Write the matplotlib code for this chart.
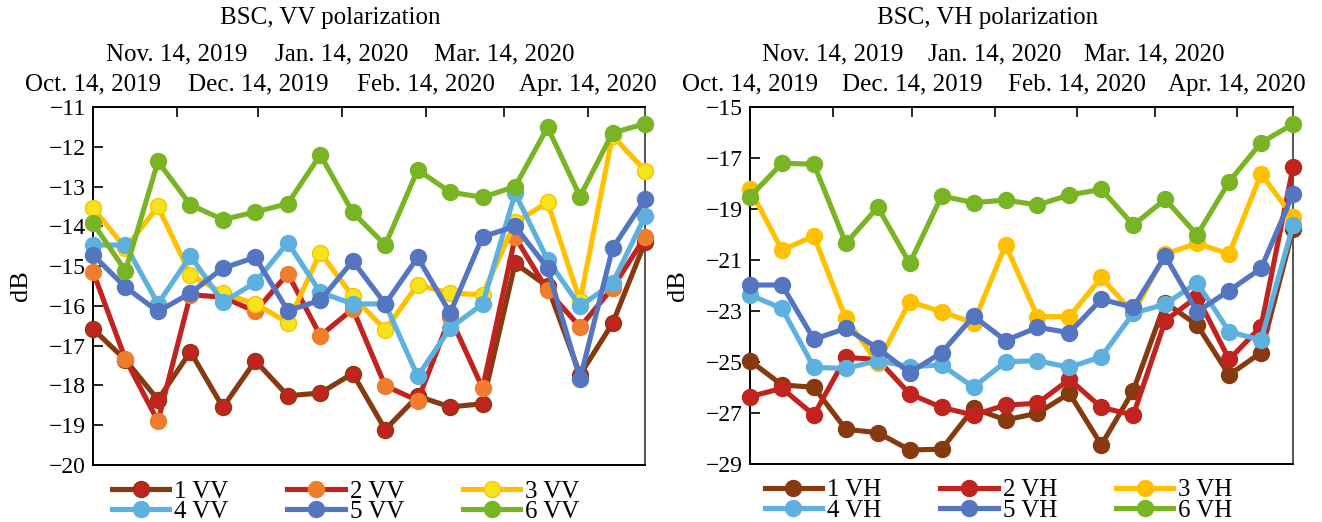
import numpy as np
import matplotlib
matplotlib.use("Agg")
import matplotlib.pyplot as plt

plt.rcParams['font.family'] = ['Liberation Serif', 'DejaVu Serif']

# Sentinel-1 acquisition dates (12-day revisit)
dates = np.array(['2019-10-14', '2019-10-26', '2019-11-07', '2019-11-19', '2019-12-01',
                  '2019-12-13', '2019-12-25', '2020-01-06', '2020-01-18', '2020-01-30',
                  '2020-02-11', '2020-02-23', '2020-03-06', '2020-03-18', '2020-03-30',
                  '2020-04-11', '2020-04-23', '2020-05-05'], dtype='datetime64[D]')

tick_dates = np.array(['2019-10-14', '2019-11-14', '2019-12-14', '2020-01-14',
                       '2020-02-14', '2020-03-14', '2020-04-14'], dtype='datetime64[D]')
tick_labels = ['Oct. 14, 2019', 'Nov. 14, 2019', 'Dec. 14, 2019', 'Jan. 14, 2020',
               'Feb. 14, 2020', 'Mar. 14, 2020', 'Apr. 14, 2020']

# backscatter, VV polarization (dB)
vv1 = [-16.58, -17.36, -18.36, -17.15, -18.55, -17.38, -18.26, -18.19, -17.70, -19.11,
       -18.27, -18.54, -18.46, -14.93, -15.51, -17.73, -16.44, -14.40]
vv2 = [-15.14, -17.34, -18.90, -15.72, -15.78, -16.14, -15.19, -16.75, -16.08, -18.01,
       -18.38, -16.28, -18.07, -14.27, -15.61, -16.53, -15.55, -14.27]
vv3 = [-13.54, -14.55, -13.50, -15.22, -15.68, -15.95, -16.42, -14.66, -15.76, -16.60,
       -15.47, -15.68, -15.72, -13.90, -13.40, -15.88, -11.72, -12.60]
vv4 = [-14.47, -14.47, -15.95, -14.74, -15.91, -15.41, -14.41, -15.66, -15.95, -15.95,
       -17.77, -16.56, -15.95, -13.17, -14.84, -16.01, -15.43, -13.75]
vv5 = [-14.72, -15.53, -16.14, -15.68, -15.05, -14.78, -16.12, -15.86, -14.87, -15.95,
       -14.78, -16.18, -14.26, -14.00, -15.05, -17.84, -14.55, -13.32]
vv6 = [-13.92, -15.12, -12.37, -13.46, -13.83, -13.64, -13.43, -12.20, -13.65, -14.47,
       -12.58, -13.14, -13.27, -13.00, -11.51, -13.25, -11.65, -11.42]

# backscatter, VH polarization (dB)
vh1 = [-24.95, -25.90, -25.99, -27.64, -27.77, -28.45, -28.42, -26.82, -27.27, -27.01,
       -26.23, -28.25, -26.12, -22.67, -23.55, -25.51, -24.63, -19.80]
vh2 = [-26.36, -26.03, -27.08, -24.82, -24.90, -26.25, -26.78, -27.08, -26.69, -26.62,
       -25.68, -26.78, -27.08, -23.38, -22.44, -24.90, -23.61, -17.37]
vh3 = [-18.23, -20.61, -20.06, -23.29, -25.05, -22.63, -23.03, -23.46, -20.41, -23.22,
       -23.22, -21.68, -23.09, -20.76, -20.35, -20.76, -17.63, -19.30]
vh4 = [-22.37, -22.90, -25.21, -25.25, -24.95, -25.18, -25.12, -25.99, -24.99, -24.95,
       -25.21, -24.79, -23.09, -22.73, -21.89, -23.81, -24.14, -19.63]
vh5 = [-21.98, -21.98, -24.11, -23.68, -24.46, -25.42, -24.63, -23.20, -24.16, -23.64,
       -23.85, -22.54, -22.86, -20.84, -23.03, -22.20, -21.33, -18.41]
vh6 = [-18.52, -17.21, -17.24, -20.35, -18.93, -21.13, -18.49, -18.75, -18.65, -18.84,
       -18.45, -18.23, -19.63, -18.62, -20.02, -17.93, -16.40, -15.67]

brown, red, orange = '#873A10', '#C1241E', '#EE7E2D'
yellow, yellow2 = '#FFC000', '#F3E41E'
lblue, blue, green = '#5EB1DE', '#5475C0', '#78B424'

# (line colour, marker face, marker edge)
vv_styles = [(brown, red, brown), (red, orange, orange), (yellow, yellow2, yellow),
             (lblue, lblue, lblue), (blue, blue, blue), (green, green, green)]
vh_styles = [(brown, brown, brown), (red, red, red), (yellow, yellow, yellow),
             (lblue, lblue, lblue), (blue, blue, blue), (green, green, green)]

fig = plt.figure(figsize=(13.22, 5.22), dpi=100)
ax1 = fig.add_axes([93 / 1322, 1 - 465 / 522, 552 / 1322, 358 / 522])
ax2 = fig.add_axes([750 / 1322, 1 - 464 / 522, 543 / 1322, 357 / 522])


def draw(ax, series, styles, pol, ylim, yticks, title, title_x):
    handles = []
    for i, (vals, (lc, mc, ec)) in enumerate(zip(series, styles)):
        h, = ax.plot(dates, vals, '-o', color=lc, lw=3.7, ms=11.5,
                     mfc=mc, mec=ec, mew=1.0, clip_on=False, zorder=3 + i,
                     label=f'{i + 1} {pol}')
        handles.append(h)
    ax.set_xlim(dates[0], dates[-1])
    ax.set_ylim(*ylim)
    ax.set_yticks(yticks)
    ax.tick_params(axis='y', direction='in', length=7, width=1.2, labelsize=17, pad=5)
    ax.set_ylabel('dB', fontsize=19, labelpad=12)

    ax.xaxis.tick_top()
    ax.set_xticks(tick_dates[0::2])
    ax.set_xticklabels(tick_labels[0::2])
    ax.set_xticks(tick_dates[1::2], minor=True)
    ax.set_xticklabels(tick_labels[1::2], minor=True)
    ax.tick_params(axis='x', which='major', direction='in', length=7, width=1.2,
                   labelsize=18, pad=8)
    ax.tick_params(axis='x', which='minor', direction='in', length=7, width=1.2,
                   labelsize=18, pad=30)

    for s in ['left', 'bottom', 'top']:
        ax.spines[s].set_linewidth(1.4)
        ax.spines[s].set_color('black')
    ax.spines['right'].set_linewidth(1.4)
    ax.spines['right'].set_color('#555555')

    order = [0, 3, 1, 4, 2, 5]
    ax.legend([handles[k] for k in order], [handles[k].get_label() for k in order],
              ncol=3, loc='upper center', bbox_to_anchor=(0.458, 0.0), frameon=False,
              fontsize=18, handlelength=2.3, handletextpad=0.2, columnspacing=2.35,
              labelspacing=-0.08, borderpad=0.1)

    fig.text(title_x / 1322, 1 - 18 / 522, title, ha='center', va='center', fontsize=18)


draw(ax1, [vv1, vv2, vv3, vv4, vv5, vv6], vv_styles, 'VV', (-20, -11),
     np.arange(-20, -10, 1), 'BSC, VV polarization', 330)
draw(ax2, [vh1, vh2, vh3, vh4, vh5, vh6], vh_styles, 'VH', (-29, -15),
     np.arange(-29, -14, 2), 'BSC, VH polarization', 988)

fig.savefig('out.png', dpi=100)
